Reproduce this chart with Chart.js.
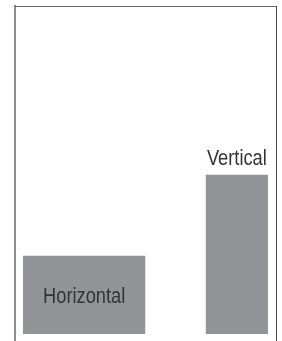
<!DOCTYPE html>
<html>
<head>
<meta charset="utf-8">
<script src="https://cdn.jsdelivr.net/npm/chart.js@4/dist/chart.umd.min.js"></script>
<style>
  html, body { margin: 0; padding: 0; background: #fff; }
  #wrap { width: 282px; height: 341px; }
</style>
</head>
<body>
<div id="wrap"><canvas id="chart"></canvas></div>
<script>
// the two boxes: label, left and right edge, height
const labels = ['Horizontal', 'Vertical'];
const xStart = [0.3, 7.3];
const xEnd = [5.0, 9.7];
const heights = [3.0, 6.1];

const barColor = '#939498';
const textColor = '#333333';

// one filled segment per box, filled down to y = 0
const datasets = labels.map((name, i) => ({
  label: name,
  data: [{ x: xStart[i], y: heights[i] }, { x: xEnd[i], y: heights[i] }],
  showLine: true,
  fill: 'origin',
  backgroundColor: barColor,
  borderColor: barColor,
  borderWidth: 0,
  pointRadius: 0,
}));

// Horizontal goes inside its box, Vertical sits on top of its box.
// no narrow font installed, so squeeze the regular one
const boxLabels = {
  id: 'boxLabels',
  afterDatasetsDraw(chart) {
    const { ctx, scales } = chart;
    labels.forEach((name, i) => {
      const cx = scales.x.getPixelForValue((xStart[i] + xEnd[i]) / 2);
      const top = scales.y.getPixelForValue(heights[i]);
      const bottom = scales.y.getPixelForValue(0);
      const y = i === 0 ? (top + bottom) / 2 + 2 : top - 10;
      ctx.save();
      ctx.fillStyle = textColor;
      ctx.font = '22px "Liberation Sans", Arial, sans-serif';
      ctx.textAlign = 'center';
      ctx.textBaseline = i === 0 ? 'middle' : 'alphabetic';
      ctx.translate(cx, y);
      ctx.scale(0.83, 1);
      ctx.fillText(name, 0, 0);
      ctx.restore();
    });
  },
};

const hidden = { display: false };

new Chart(document.getElementById('chart'), {
  type: 'scatter',
  data: { datasets },
  options: {
    responsive: true,
    maintainAspectRatio: false,
    animation: false,
    layout: { padding: { left: 15, top: 6, right: 6, bottom: 0 } },
    plugins: { legend: hidden, tooltip: { enabled: false } },
    scales: {
      x: { type: 'linear', min: 0, max: 10, display: false },
      y: {
        type: 'linear', min: -0.27, max: 12.57, position: 'left',
        ticks: hidden, grid: { display: false, drawTicks: false },
        border: { color: '#8e8e8e', width: 2 },
      },
      xTop: {
        type: 'linear', position: 'top', min: 0, max: 10,
        ticks: hidden, grid: { display: false, drawTicks: false },
        border: { color: '#6a6a6a', width: 1 },
      },
      yRight: {
        type: 'linear', position: 'right', min: 0, max: 1,
        ticks: hidden, grid: { display: false, drawTicks: false },
        border: { color: '#444444', width: 1 },
      },
    },
  },
  plugins: [boxLabels],
});
</script>
</body>
</html>
